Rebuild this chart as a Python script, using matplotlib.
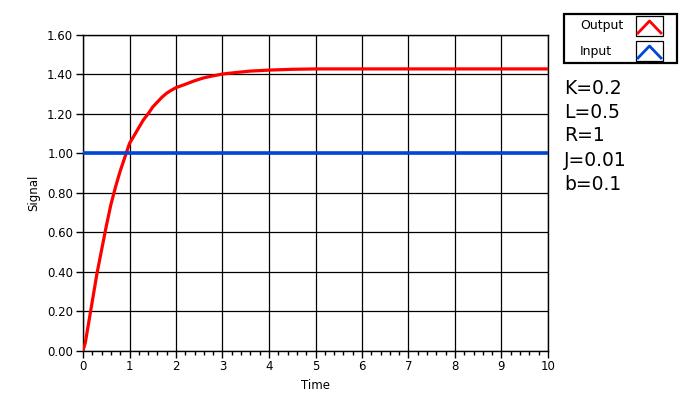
import matplotlib
matplotlib.use("Agg")
import matplotlib.pyplot as plt
from matplotlib.patches import Rectangle
from matplotlib.lines import Line2D
import numpy as np

# values
t_out = [0.0, 0.05, 0.1, 0.2, 0.3, 0.4, 0.5, 0.6, 0.7, 0.8, 0.9, 1.0, 1.1, 1.2, 1.3,
         1.4, 1.5, 1.6, 1.7, 1.8, 1.9, 2.0, 2.2, 2.4, 2.6, 2.8, 3.0, 3.3, 3.6,
         4.0, 4.5, 5.0, 10.0]
y_out = [0.00, 0.04, 0.11, 0.25, 0.39, 0.51, 0.63, 0.74, 0.83, 0.91, 0.98, 1.05,
         1.09, 1.13, 1.17, 1.20, 1.235, 1.26, 1.285, 1.305, 1.32, 1.333, 1.35,
         1.368, 1.383, 1.393, 1.402, 1.41, 1.417, 1.422, 1.426, 1.428, 1.428]
t_in = [0.0, 10.0]
y_in = [1.0, 1.0]
params = ["K=0.2", "L=0.5", "R=1", "J=0.01", "b=0.1"]
legend_names = ["Output", "Input"]

red = "#ff0000"
blue = "#0047d8"

W, H = 697, 398
fig = plt.figure(figsize=(W / 100, H / 100), dpi=100)
ax = fig.add_axes([83 / W, 1 - 350.5 / H, (548 - 83) / W, (350.5 - 35) / H])

ax.plot(t_out, y_out, color=red, lw=2.3, zorder=3)
ax.plot(t_in, y_in, color=blue, lw=2.6, zorder=3)

ax.set_xlim(0, 10)
ax.set_ylim(0, 1.6)
ax.set_xticks(np.arange(0, 11, 1))
ax.set_xticks(np.arange(0, 10.01, 0.2), minor=True)
ax.set_yticks(np.arange(0, 1.61, 0.2))
ax.set_yticklabels(["%.2f" % v for v in np.arange(0, 1.61, 0.2)])
ax.grid(True, color="black", lw=0.9)
ax.tick_params(axis="both", which="major", length=5, width=1, labelsize=8.5, pad=2)
ax.tick_params(axis="x", which="minor", length=3, width=1)
ax.tick_params(axis="y", which="minor", length=0)
for s in ax.spines.values():
    s.set_linewidth(1)
ax.set_xlabel("Time", fontsize=8.5, labelpad=4)
ax.set_ylabel("Signal", fontsize=8.5, labelpad=5)

# legend box
fig.patches.append(Rectangle((564 / W, 1 - 63 / H), (677 - 564) / W, (63 - 14) / H,
                             transform=fig.transFigure, fill=False, ec="black", lw=1.6))
for i, (name, col) in enumerate(zip(legend_names, [red, blue])):
    yc = 26 + i * 25
    fig.text(580 / W, 1 - yc / H, name, fontsize=9, va="center", ha="left")
    fig.patches.append(Rectangle((636 / W, 1 - (yc + 10) / H), 27 / W, 20 / H,
                                 transform=fig.transFigure, fill=False, ec="black", lw=0.9))
    xs = np.array([638, 649.5, 661]) / W
    ys = 1 - np.array([yc + 7, yc - 5, yc + 7]) / H
    fig.lines.append(Line2D(xs, ys, transform=fig.transFigure, color=col, lw=2))

for i, p in enumerate(params):
    fig.text(564 / W, 1 - (88 + i * 24) / H, p, fontsize=13.5, va="center", ha="left")

fig.savefig("out.png", dpi=100)
